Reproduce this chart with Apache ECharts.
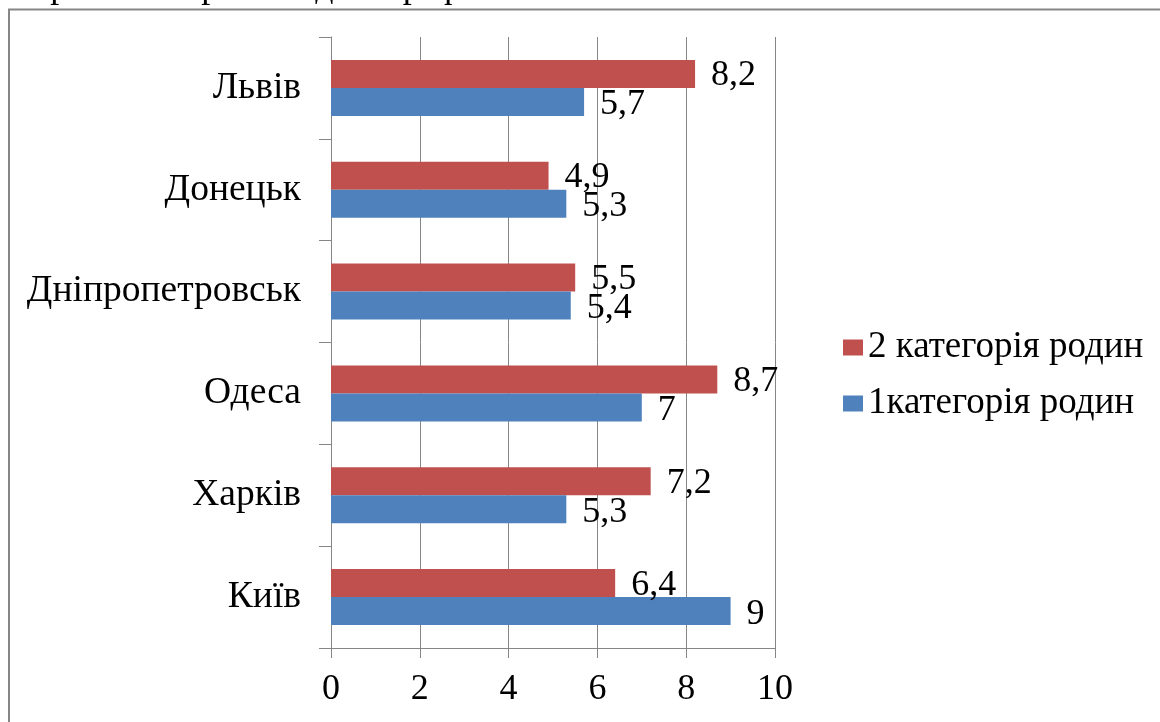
<!DOCTYPE html>
<html lang="uk">

<head>
  <meta charset="UTF-8">
  <title>chart</title>
  <style>
    body,
    html {
      margin: 0;
      padding: 0;
      background: #fff;
    }

    #chart {
      width: 1160px;
      height: 722px;
    }
  </style>
</head>

<body>
  <div id="chart"></div>
  <script src="https://cdn.jsdelivr.net/npm/echarts@6/dist/echarts.min.js"></script>
  <script>
    // міста знизу вгору, як на осі
    var cities = ['Київ', 'Харків', 'Одеса', 'Дніпропетровськ', 'Донецьк', 'Львів'];
    var cat2 = [6.4, 7.2, 8.7, 5.5, 4.9, 8.2];
    var cat1 = [9, 5.3, 7, 5.4, 5.3, 5.7];
    var ticks = [0, 2, 4, 6, 8, 10];
    var seriesNames = ['2 категорія родин', '1категорія родин'];

    var font = '"Liberation Serif", "DejaVu Serif", serif';
    var gray = '#868686';

    function fmt(p) {
      return String(p.value).replace('.', ',');
    }

    var myChart = echarts.init(document.getElementById('chart'));
    var option = {
      animation: false,
      textStyle: { fontFamily: font },
      graphic: [
        {
          type: 'rect',
          shape: { x: 9, y: 9.5, width: 1200, height: 760 },
          style: { fill: 'none', stroke: gray, lineWidth: 2 }
        },
        {
          type: 'text',
          left: 0,
          top: -30,
          style: {
            text: 'зобразимо отримані дані графічно',
            fontFamily: font,
            fontSize: 36,
            fill: '#000'
          }
        }
      ],
      legend: {
        orient: 'vertical',
        left: 838,
        top: 324,
        data: seriesNames,
        itemWidth: 20,
        itemHeight: 16,
        itemGap: 19,
        icon: 'rect',
        textStyle: { fontFamily: font, fontSize: 37, color: '#000' }
      },
      grid: {
        left: 331,
        right: 385,
        top: 37,
        bottom: 74,
        containLabel: false
      },
      xAxis: {
        type: 'value',
        min: ticks[0],
        max: ticks[ticks.length - 1],
        interval: 2,
        axisLine: { show: true, lineStyle: { color: gray } },
        axisTick: { show: true, length: 10, lineStyle: { color: gray } },
        axisLabel: {
          margin: 24,
          fontSize: 36,
          color: '#000',
          fontFamily: font
        },
        splitLine: { show: true, lineStyle: { color: gray, width: 1 } }
      },
      yAxis: {
        type: 'category',
        data: cities,
        axisLine: { show: true, lineStyle: { color: gray } },
        axisTick: { show: true, length: 12, lineStyle: { color: gray } },
        axisLabel: {
          margin: 30,
          fontSize: 37.5,
          color: '#000',
          fontFamily: font
        }
      },
      series: [
        {
          name: seriesNames[0],
          type: 'bar',
          data: cat2,
          barGap: '0%',
          barCategoryGap: '45%',
          itemStyle: { color: '#C0504D' },
          label: {
            show: true,
            position: 'right',
            distance: 16,
            offset: [0, 2],
            fontSize: 36,
            color: '#000',
            fontFamily: font,
            formatter: fmt
          }
        },
        {
          name: seriesNames[1],
          type: 'bar',
          data: cat1,
          barGap: '0%',
          barCategoryGap: '45%',
          itemStyle: { color: '#4F81BD' },
          label: {
            show: true,
            position: 'right',
            distance: 16,
            offset: [0, 3],
            fontSize: 36,
            color: '#000',
            fontFamily: font,
            formatter: fmt
          }
        }
      ]
    };
    myChart.setOption(option);
  </script>
</body>

</html>
